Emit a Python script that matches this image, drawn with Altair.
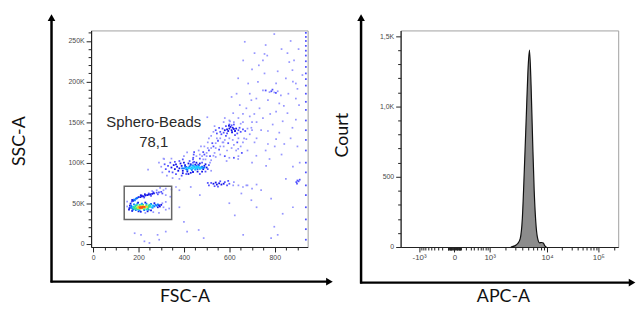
import altair as alt
import pandas as pd

# ---------------- Left panel: FSC-A (x) vs SSC-A (y, thousands) ----------------
# points grouped by density level (0 = sparse ... 7 = densest)
L0 = [(310,45),(320,42),(150,46),(265,39),(305,50),(290,38),(230,38),(335,43.5),(320,51.6),(150,52),
      (310,66),(320,60),(280,66),(260,65),(340,58),(295,69),(320,68),(345,67),(365,70),(380,66),
      (300,95),(305,88),(325,84),(345,105),(350,81),(290,100),(380,80),(520,90),(515,100),(485,104),
      (400,108),(310,105),(242,91.5),(313,104.5),(414,112.6),
      (480,108),(500,112),(520,118),(540,124),(560,130),(505,118),(545,130),(495,104),(535,112),(575,120),
      (615,128),(650,120),(640,108),(600,106),(560,110),(465,115),(475,120),(455,108),(590,115),(610,118),
      (630,115),(570,125),(520,103),(540,107),(460,98),(505,125),(490,120),(574,125),(530,108.5),(588,102),
      (639,104.5),(639,117),(560,120),(580,128),(600,130),(620,122),(640,130),(660,125),(540,118),(500,108),
      (470,110),
      (520,133),(530,138),(510,130),(680,142),(690,135),(700,140),(665,130),(650,148),(575,150),(600,152),
      (535,145),(503,156),(620,150),(640,155),(660,150),(700,150),(710,160),(580,155),
      (620,76),(640,72),(660,70),(680,72),(700,68),(720,73),(740,66),(617,72),(675,72),
      (798,258.5),(668,249),(711,235),(755,234),(767,232),(856,235),(885,226),(748,226),(813,212.6),(878,214),
      (849,204),(755,210),(683,197.6),(726,199.6),(806,197.6),(893,197.6),(748,189),(777,187),(798,186.6),(813,188),
      (827,183),(719,179),(697,177),(770,177),(820,173),(893,179),(900,191),(646,171),(675,167),(733,167),
      (806,163),(856,161),(617,161),(632,185),(610,181),(690,157),(748,155),(835,151),(893,153),(791,147),
      (878,143),(603,151),(697,143),(770,139),(820,137),(661,226),(639,204),(907,171),(922,208),(864,224),
      (675,129),(711,125),(770,123),(806,129),(842,123),(719,108.5),(777,104.5),(762,96),(849,80),
      (700,215),(730,220),(760,245),(830,240),(870,250),(905,240),(880,200),(860,185),(840,170),(780,160),
      (720,150),(690,185),(660,160),(740,140),(800,120),(830,110),(870,130),(900,120),(910,100),(880,95),
      (700,100),(680,115),(720,130),(760,115),
      (784,55.7),(697,53.7),(653,62),(624,35),(835,37),(798,21),(813,11),(784,7),(661,11),(487,7),
      (465,17),(183,13),(211,11),(226,3),(284,11),(291,5),(248,1),(320,15),(414,15),(400,27),
      (600,50),(720,45),(880,45),(470,60),(430,70),(380,45)]
L1 = [(280,63),(290,63.5),(300,64),(170,52),(215,59.5),(245,62),(255,59),(225,57),(265,63.5),(285,61),(305,62),
      (330,96),(340,100),(350,88),(365,86),(380,102),(395,104),(410,86),(445,101),(480,100),(495,89),
      (510,97),(320,92),(335,89),(360,101),(390,84),(470,86),(505,92),(315,98),(440,104),(425,102),
      (440,100),(441,106),(443,110),(445,113),
      (560,138),(570,142),(575,137),(585,145),(590,136),(610,146),(640,140),(650,138),(645,143),(635,136),
      (555,143),(565,135),(620,147),(600,147),(660,141),(545,136),(585,133),(625,134),(670,139),(540,140),
      (510,72),(520,75),(580,76),(590,72),(600,74),(550,70.5),(560,77),(505,75),(595,77.5),(535,71),
      (895,76),(900,78),(905,77),(910,79),(898,74),
      (470,105),(490,110),(510,115),(530,120),(550,127),(485,113),(525,124),(515,108),(555,116),(595,124),
      (635,125),(655,112),(620,106),(580,108),(760,189),(785,188),(805,186),(790,190),
      (937,5),(937,18),(937,30),(937,45),(937,60),(937,72),(937,88),(937,100),(937,115),(937,128),
      (937,140),(937,152),(937,165),(937,175),(937,185),(937,195),(937,203),(937,210),(937,218),(937,225),
      (937,232),(937,238),(937,244),(937,250),(937,255),(937,260)]
L2 = [(160,44),(162,47),(290,47.5),(294,46),(200,40),(255,41.2),(172,40.5),(230,50.8),(198,50.8),(270,50),
      (300,48),(158,42),(210,39.5),(240,40),(165,49.5),(285,45),
      (200,57.5),(208,57.5),(215,58.5),(222,58.5),(230,59.5),(238,60),(245,60.5),(252,61),(260,61.5),(268,62),
      (192,56),(176,53),(172,54),(228,61),(210,59.8),
      (380,93),(390,96),(395,90),(405,97),(415,89),(430,98),(450,97.5),(465,97),(485,92),(490,96),
      (370,95),(360,92),(385,99),(420,99),(440,88.5),(460,89),(500,94),(375,90),(355,97),(345,94),
      (400,100),(470,99),(430,87.5),(410,94.5),(365,98),(395,87),(420,86),(455,100),(480,89),(495,98),
      (590,141),(600,142),(610,140),(620,141.5),(595,139),(605,144),(615,143),(625,139),(580,140),(630,142),
      (612,137.5),(598,145.5),
      (530,74),(545,73),(555,74.5),(565,73),(540,75.5),(575,74)]
L3 = [(170,45.5),(172,43.5),(168,47),(265,47),(270,46),(275,48),(262,44.5),(180,48.5),(195,49.5),(215,49.5),
      (235,49.3),(255,49),(280,47),(285,48.5),(188,41.5),(205,41.2),(225,41.5),(245,42),(176,42),(165,44.5),
      (180,54.5),(188,55.5),(195,56.5),(184,53.5),
      (410,92),(420,94),(445,95),(460,92),(475,94),(435,91),(450,91.5),(400,93),(425,95.5),(470,92.5),
      (480,95),(455,96),(405,95),(415,91),(485,93.5),(440,96.5),(392,93),(430,96.5),(465,96),(490,94)]
L4 = [(176,45.5),(188,47.5),(258,45),(252,47.8),(200,42),(235,42.3),(212,48.5),(262,47),
      (440,93),(455,93.5),(430,92.5),(465,94),(448,94.5),(420,93),(435,94),(460,95),(470,93.5),(450,92.5),
      (425,93.5),(442,95.5),(458,94.5),(475,93),(412,93.5)]
L5 = [(182,45),(186,46.5),(190,44),(245,46.5),(250,45.5),(242,44.3),(192,47.5),(205,47.8),(220,48),(235,47.5),
      (195,42.8),(225,42.8),(178,44),(248,48),(184,43),(240,43)]
L6 = [(195,45),(200,46),(232,46),(238,45.5),(198,44),(228,44.3),(210,46.5),(220,46.6),(215,43.6),(205,43.5)]
L7 = [(205,45),(212,45),(219,45.3),(226,45.5),(208,44.2),(216,44.4)]
level_colors = ["#9696ff", "#5050ff", "#1414e6", "#0a78ff", "#18ccff", "#30e090", "#d8e030", "#ff5010"]

gate_fsc = [137, 346]
gate_ssc = [30, 71]
gate_text = ["Sphero-Beads", "78,1"]
gate_text_fsc = [267, 267]
gate_text_ssc = [150, 126]

fsc_major = [0, 200, 400, 600, 800]
fsc_minor = [50, 100, 150, 250, 300, 350, 450, 500, 550, 650, 700, 750, 850, 900]
ssc_major = [0, 50, 100, 150, 200, 250]
ssc_minor = [10, 20, 30, 40, 60, 70, 80, 90, 110, 120, 130, 140, 160, 170, 180, 190, 210, 220, 230, 240, 260]

# ---------------- Right panel: APC-A histogram ----------------
apc = [2510, 2940, 3310, 3650, 3960, 4280, 4630, 4910, 5210, 5530, 5870, 6220, 6600, 7010, 7590, 8210, 8710, 9240, 9800]
count = [0, 8, 25, 60, 200, 550, 950, 1250, 1400, 1150, 750, 400, 180, 70, 30, 32, 28, 8, 0]
apc_major = [-1000, 0, 1000, 10000, 100000]
apc_labels = ["-10³", "0", "10³", "10⁴", "10⁵"]
apc_minor = ([-900, -800, -700, -600, -500, -400, -300, -200, -100, -90, -80, -70, -60, -50, -40, -30, -20, -10,
              10, 20, 30, 40, 50, 60, 70, 80, 90, 100, 200, 300, 400, 500, 600, 700, 800, 900,
              2000, 3000, 4000, 5000, 6000, 7000, 8000, 9000,
              20000, 30000, 40000, 50000, 60000, 70000, 80000, 90000, 200000])
count_major = [0, 500, 1000, 1500]
count_labels = ["0", "500", "1,0K", "1,5K"]
count_minor = [100, 200, 300, 400, 600, 700, 800, 900, 1100, 1200, 1300, 1400]

# ---------------- build ----------------
rows = []
for lvl, pts in enumerate([L0, L1, L2, L3, L4, L5, L6, L7]):
    for x, y in pts:
        rows.append({"fsc": x, "ssc": y, "level": lvl})
pts_df = pd.DataFrame(rows)
gate_df = pd.DataFrame([{"x0": gate_fsc[0], "x1": gate_fsc[1], "y0": gate_ssc[0], "y1": gate_ssc[1]}])
gtext_df = pd.DataFrame({"fsc": gate_text_fsc, "ssc": gate_text_ssc, "t": gate_text})
hist_df = pd.DataFrame({"apc": apc, "count": count})

def label_expr(vals, labels):
    parts = [f"datum.value == {v} ? '{l}'" for v, l in zip(vals, labels)]
    return " : ".join(parts) + " : ''"

LFONT = "Liberation Sans"
TFONT = "Lato"

xs_l = alt.Scale(domain=[-9, 945], nice=False, zero=False)
ys_l = alt.Scale(domain=[-4, 263], nice=False, zero=False)

def major_axis(orient, vals, expr, fs=7):
    return alt.Axis(orient=orient, values=vals, labelExpr=expr, title=None, tickSize=5,
                    labelPadding=2, grid=False, labelFont=LFONT, labelFontSize=fs,
                    labelColor="#4a4a4a", tickColor="#222", domainColor="#222", domainWidth=1.2)

def minor_axis(orient, vals):
    return alt.Axis(orient=orient, values=vals, labels=False, domain=False, title=None,
                    tickSize=3, grid=False, tickColor="#222")

one = alt.Data(values=[{}])

def decorations(vx, hy, top, right, ytitle, ytx, yty, xtitle, xtx, xty):
    vline = alt.Chart(one).mark_rule(color="black", strokeWidth=2.5).encode(
        x=alt.value(vx), y=alt.value(top + 2), y2=alt.value(hy + 1))
    hline = alt.Chart(one).mark_rule(color="black", strokeWidth=2.5).encode(
        x=alt.value(vx - 1), x2=alt.value(right - 2), y=alt.value(hy))
    vhead = alt.Chart(one).mark_point(shape="triangle-up", filled=True, size=60, color="black", opacity=1).encode(
        x=alt.value(vx), y=alt.value(top))
    hhead = alt.Chart(one).mark_point(shape="triangle-right", filled=True, size=60, color="black", opacity=1).encode(
        x=alt.value(right), y=alt.value(hy))
    yt = alt.Chart(one).mark_text(text=ytitle, angle=270, font=TFONT, fontSize=18, color="#111").encode(
        x=alt.value(ytx), y=alt.value(yty))
    xt = alt.Chart(one).mark_text(text=xtitle, font=TFONT, fontSize=18, color="#111").encode(
        x=alt.value(xtx), y=alt.value(xty))
    return [vline, hline, vhead, hhead, yt, xt]

points = alt.Chart(pts_df).mark_square(opacity=1).encode(
    x=alt.X("fsc:Q", scale=xs_l, axis=major_axis("bottom", fsc_major, label_expr(fsc_major, [str(v) for v in fsc_major]))),
    y=alt.Y("ssc:Q", scale=ys_l, axis=major_axis("left", ssc_major, "datum.value == 0 ? '0' : datum.value + 'K'")),
    color=alt.Color("level:O", scale=alt.Scale(domain=list(range(8)), range=level_colors), legend=None),
    size=alt.Size("level:O", scale=alt.Scale(domain=list(range(8)), range=[3, 4, 5, 6, 7, 8, 8, 8]), legend=None),
    order=alt.Order("level:Q"),
)
gate = alt.Chart(gate_df).mark_rect(fill=None, stroke="#666", strokeWidth=1.5).encode(
    x=alt.X("x0:Q", scale=xs_l, axis=minor_axis("bottom", fsc_minor)),
    x2="x1:Q",
    y=alt.Y("y0:Q", scale=ys_l, axis=minor_axis("left", ssc_minor)),
    y2="y1:Q",
)
gtext = alt.Chart(gtext_df).mark_text(font=LFONT, fontSize=15, color="#2a2a2a").encode(
    x=alt.X("fsc:Q", scale=xs_l, axis=None),
    y=alt.Y("ssc:Q", scale=ys_l, axis=None),
    text="t:N",
)
left = alt.layer(points, gate, gtext,
                 *decorations(-40, 254, -13, 241, "SSC-A", -72, 112, "FSC-A", 95, 270)
                 ).resolve_axis(x="independent", y="independent").properties(width=219, height=219)

xs_r = alt.Scale(type="symlog", constant=350, domain=[-2388, 1000, 10000, 241000],
                 range=[0, 90, 148, 220], nice=False, zero=False)
ys_r = alt.Scale(domain=[0, 1540], nice=False, zero=False)

area = alt.Chart(hist_df).mark_area(color="#8c8c8c", interpolate="monotone").encode(
    x=alt.X("apc:Q", scale=xs_r, axis=major_axis("bottom", apc_major, label_expr(apc_major, apc_labels), fs=8)),
    y=alt.Y("count:Q", scale=ys_r, axis=major_axis("left", count_major, label_expr(count_major, count_labels))),
)
outline = alt.Chart(hist_df).mark_line(color="#111", strokeWidth=1.2, interpolate="monotone").encode(
    x=alt.X("apc:Q", scale=xs_r, axis=minor_axis("bottom", apc_minor)),
    y=alt.Y("count:Q", scale=ys_r, axis=minor_axis("left", count_minor)),
)
right = alt.layer(area, outline,
                  *decorations(-40, 255, -13, 234, "Court", -58, 106, "APC-A", 104, 270)
                  ).resolve_axis(x="independent", y="independent").properties(width=220, height=219)

chart = alt.hconcat(left, right, spacing=94, bounds="flush",
                    padding={"left": 2, "top": 4, "right": 0, "bottom": 0}
                    ).configure_view(stroke="#a0a0a0", strokeWidth=1)

chart.save("out.html", embed_options={"renderer": "svg", "actions": False})
